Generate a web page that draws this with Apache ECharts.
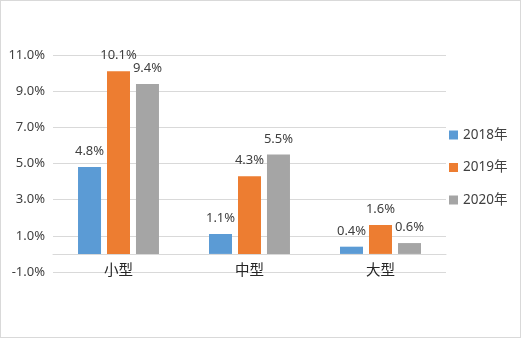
<!DOCTYPE html>
<html>
<head>
<meta charset="utf-8">
<script src="https://cdn.jsdelivr.net/npm/echarts@6/dist/echarts.min.js"></script>
<style>
  html, body { margin: 0; padding: 0; background: #fff; }
  #chart { width: 521px; height: 338px; box-sizing: border-box; border: 1px solid #d9d9d9; }
</style>
</head>
<body>
<div id="chart"></div>
<script>
// Growth rate by enterprise size, in percent
const categories = ['小型', '中型', '大型'];
const seriesNames = ['2018年', '2019年', '2020年'];
const values2018 = [4.8, 1.1, 0.4];
const values2019 = [10.1, 4.3, 1.6];
const values2020 = [9.4, 5.5, 0.6];
const yTicks = [-1, 1, 3, 5, 7, 9, 11];

const colors = ['#5b9bd5', '#ed7d31', '#a5a5a5'];
const font = '"Noto Sans", "Noto Sans CJK SC", sans-serif';

const chart = echarts.init(document.getElementById('chart'), null, { renderer: 'canvas' });

function barSeries(name, data, color) {
  return {
    name: name,
    type: 'bar',
    data: data,
    barWidth: 23,
    barGap: '26%',
    itemStyle: { color: color },
    label: {
      show: true,
      position: 'top',
      distance: 9,
      color: '#404040',
      fontSize: 13,
      fontFamily: font,
      formatter: p => p.value.toFixed(1) + '%'
    }
  };
}

chart.setOption({
  animation: false,
  grid: { left: 52, right: 74, top: 54, bottom: 65, containLabel: false },
  legend: {
    orient: 'vertical',
    left: 443,
    top: 122,
    icon: 'rect',
    itemWidth: 9,
    itemHeight: 9,
    itemGap: 18.5,
    data: seriesNames,
    textStyle: { color: '#404040', fontSize: 13.5, fontFamily: font, lineHeight: 14 }
  },
  xAxis: {
    type: 'category',
    data: categories,
    axisTick: { show: false },
    axisLine: { onZero: true, lineStyle: { color: '#d9d9d9', width: 1 } },
    axisLabel: { color: '#262626', fontSize: 14.5, fontFamily: font, margin: -8 }
  },
  yAxis: {
    type: 'value',
    min: -1,
    max: 11,
    interval: 2,
    axisLine: { show: false },
    axisTick: { show: false, customValues: yTicks },
    axisLabel: {
      customValues: yTicks,
      color: '#404040',
      fontSize: 13,
      fontFamily: font,
      margin: 8,
      formatter: v => v.toFixed(1) + '%'
    },
    splitLine: { show: true, lineStyle: { color: '#d9d9d9', width: 1 } }
  },
  series: [
    barSeries(seriesNames[0], values2018, colors[0]),
    barSeries(seriesNames[1], values2019, colors[1]),
    barSeries(seriesNames[2], values2020, colors[2])
  ]
});
</script>
</body>
</html>
